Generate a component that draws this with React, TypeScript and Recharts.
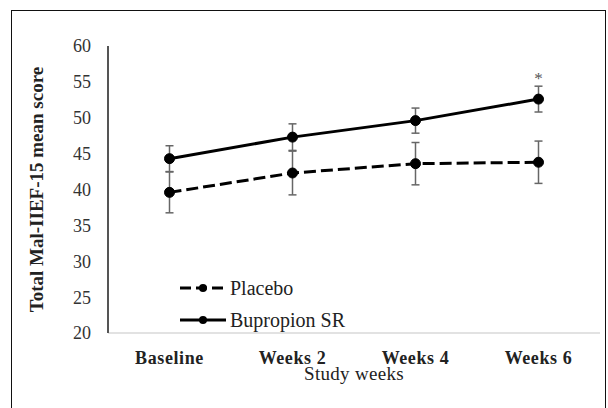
import React from "react";
import {
  LineChart,
  Line,
  XAxis,
  YAxis,
  ErrorBar,
  Legend,
  LabelList,
} from "recharts";

const categories = ["Baseline", "Weeks 2", "Weeks 4", "Weeks 6"];
const seriesNames = ["Placebo", "Bupropion SR"];
const placebo = [39.6, 42.3, 43.6, 43.8];
const placeboErr = [2.85, 3.05, 2.95, 2.95];
const bupropion = [44.3, 47.3, 49.6, 52.6];
const bupropionErr = [1.8, 1.85, 1.75, 1.8];
const significance = ["", "", "", "*"];
const yTicks = [20, 25, 30, 35, 40, 45, 50, 55, 60];

const data = categories.map((c, i) => ({
  week: c,
  placebo: placebo[i],
  placeboErr: placeboErr[i],
  bupropion: bupropion[i],
  bupropionErr: bupropionErr[i],
  sig: significance[i],
}));

const FONT = "'Liberation Serif', 'Times New Roman', Times, serif";

const SigLabel = (props: any) => {
  const { x, y, value } = props;
  if (!value) return null;
  return (
    <text x={x} y={y - 15} textAnchor="middle" fontSize={17} fill="#555" fontFamily={FONT}>
      {value}
    </text>
  );
};

const LegendContent = (props: any) => {
  const payload = [...(props.payload || [])].sort(
    (a: any, b: any) => seriesNames.indexOf(a.value) - seriesNames.indexOf(b.value)
  );
  return (
    <div style={{ fontFamily: FONT }}>
      {payload.map((entry: any, i: number) => {
        const dashed = entry.value === seriesNames[0];
        return (
          <div key={i} style={{ display: "flex", alignItems: "center", height: 32 }}>
            <svg width={46} height={14} style={{ display: "block" }}>
              <line x1={0} y1={7} x2={46} y2={7} stroke="#000" strokeWidth={3} strokeDasharray={dashed ? "11 5" : undefined} />
              <circle cx={23} cy={7} r={4} fill="#000" />
            </svg>
            <span style={{ marginLeft: 4, fontSize: 20, color: "#222", lineHeight: "22px" }}>{entry.value}</span>
          </div>
        );
      })}
    </div>
  );
};

export default function App() {
  return (
    <div style={{ position: "fixed", left: 0, top: 0, width: 608, height: 408, overflow: "hidden", background: "#fff" }}>
      <div
        style={{
          position: "absolute",
          left: 11,
          top: 10,
          width: 595,
          height: 420,
          border: "1.5px solid #111",
          boxSizing: "border-box",
        }}
      />
      <div style={{ position: "absolute", left: 0, top: 0 }}>
        <LineChart
          width={608}
          height={408}
          data={data}
          margin={{ top: 46, right: 8, bottom: 24, left: 8 }}
        >
          <XAxis
            dataKey="week"
            height={51}
            padding={{ left: 61.5, right: 61.5 }}
            axisLine={{ stroke: "#d9d9d9", strokeWidth: 1.5 }}
            tickLine={false}
            tickSize={0}
            tickMargin={18}
            tick={{ fontSize: 18, fontWeight: "bold", fill: "#222", fontFamily: FONT, letterSpacing: 0.6 }}
            label={{
              value: "Study weeks",
              position: "insideBottom",
              offset: 4,
              style: { fontSize: 19, fill: "#222", fontFamily: FONT, letterSpacing: 0.3 },
            }}
          />
          <XAxis
            xAxisId="top"
            dataKey="week"
            orientation="top"
            height={0}
            tick={false}
            tickLine={false}
            axisLine={{ stroke: "#444", strokeWidth: 2 }}
          />
          <YAxis
            width={100}
            domain={[20, 60]}
            ticks={yTicks}
            interval={0}
            axisLine={{ stroke: "#555", strokeWidth: 2 }}
            tickLine={false}
            tickSize={0}
            tickMargin={17}
            tick={{ fontSize: 18, fill: "#333", fontFamily: FONT }}
            label={{
              value: "Total Mal-IIEF-15 mean score",
              angle: -90,
              position: "insideLeft",
              offset: 28,
              style: { textAnchor: "middle", fontSize: 19, fontWeight: "bold", fill: "#222", fontFamily: FONT },
            }}
          />
          <YAxis
            yAxisId="right"
            orientation="right"
            width={0}
            domain={[20, 60]}
            tick={false}
            tickLine={false}
            axisLine={{ stroke: "#444", strokeWidth: 2 }}
          />
          <Legend
            layout="vertical"
            align="center"
            verticalAlign="middle"
            content={<LegendContent />}
            wrapperStyle={{ left: 180, top: 272, width: 220, height: 64 }}
          />
          <Line
            name={seriesNames[0]}
            dataKey="placebo"
            stroke="#000"
            strokeWidth={3}
            strokeDasharray="12 5"
            dot={{ r: 5, fill: "#000", stroke: "#000", strokeWidth: 1, strokeDasharray: "" }}
            activeDot={false}
            isAnimationActive={false}
          >
            <ErrorBar dataKey="placeboErr" direction="y" width={4} stroke="#666" strokeWidth={1.5} />
          </Line>
          <Line
            name={seriesNames[1]}
            dataKey="bupropion"
            stroke="#000"
            strokeWidth={3}
            dot={{ r: 5, fill: "#000", stroke: "#000", strokeWidth: 1 }}
            activeDot={false}
            isAnimationActive={false}
          >
            <ErrorBar dataKey="bupropionErr" direction="y" width={4} stroke="#666" strokeWidth={1.5} />
            <LabelList dataKey="sig" content={<SigLabel />} />
          </Line>
        </LineChart>
      </div>
    </div>
  );
}
